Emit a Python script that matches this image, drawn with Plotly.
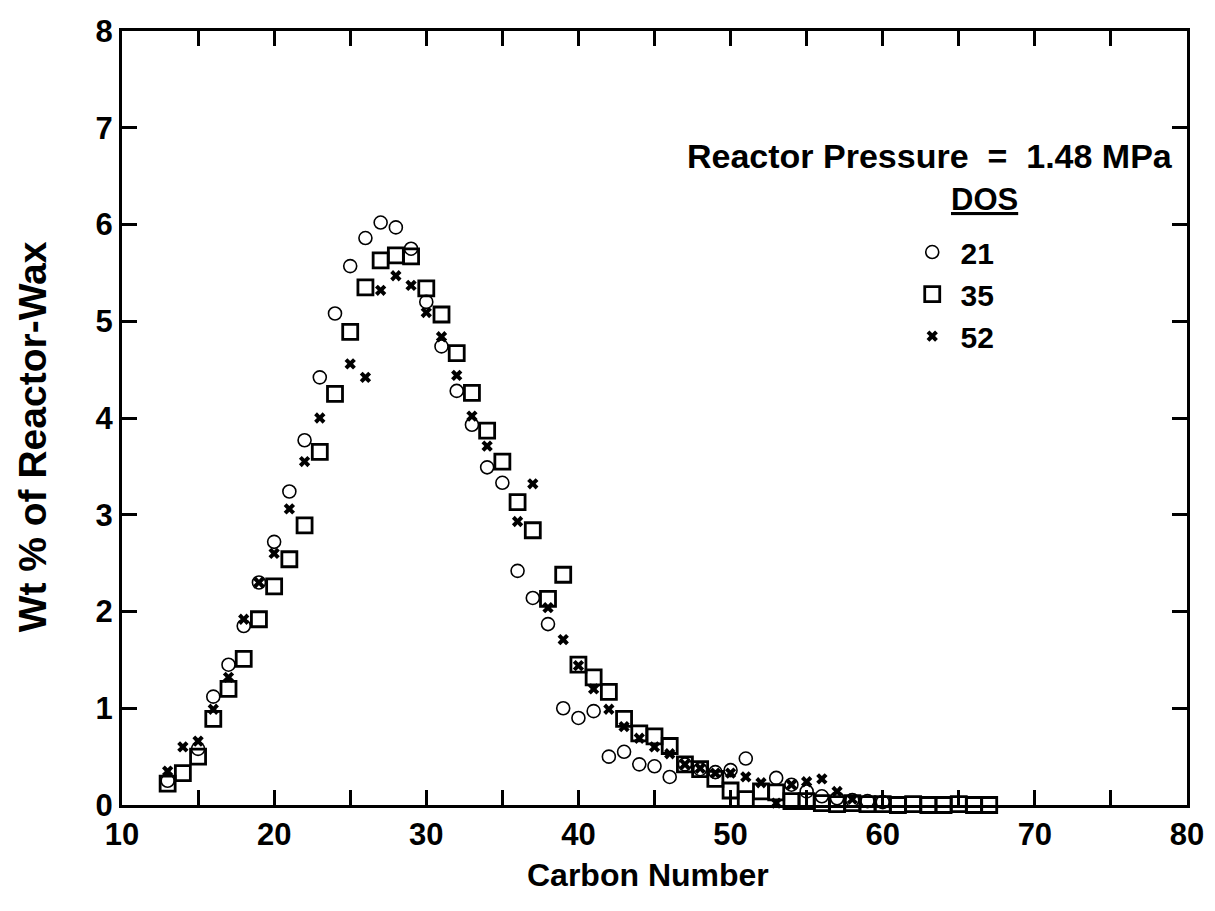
import plotly.graph_objects as go

carbon = list(range(13, 68))

dos21 = {
    13: 0.25, 15: 0.58, 16: 1.12, 17: 1.45, 18: 1.85, 19: 2.30, 20: 2.72,
    21: 3.24, 22: 3.77, 23: 4.42, 24: 5.08, 25: 5.57, 26: 5.86, 27: 6.02,
    28: 5.97, 29: 5.75, 30: 5.20, 31: 4.74, 32: 4.28, 33: 3.93, 34: 3.49,
    35: 3.33, 36: 2.42, 37: 2.14, 38: 1.87, 39: 1.00, 40: 0.90, 41: 0.97,
    42: 0.50, 43: 0.55, 44: 0.42, 45: 0.40, 46: 0.29, 47: 0.42, 48: 0.37,
    49: 0.34, 50: 0.36, 51: 0.48, 53: 0.28, 54: 0.21, 55: 0.14, 56: 0.09,
    57: 0.07, 58: 0.05, 59: 0.04, 60: 0.03,
}
dos35 = {
    13: 0.22, 14: 0.33, 15: 0.50, 16: 0.89, 17: 1.20, 18: 1.51, 19: 1.92,
    20: 2.26, 21: 2.54, 22: 2.89, 23: 3.65, 24: 4.25, 25: 4.89, 26: 5.35,
    27: 5.63, 28: 5.68, 29: 5.67, 30: 5.34, 31: 5.07, 32: 4.67, 33: 4.26,
    34: 3.87, 35: 3.55, 36: 3.13, 37: 2.84, 38: 2.13, 39: 2.38, 40: 1.45,
    41: 1.32, 42: 1.17, 43: 0.89, 44: 0.74, 45: 0.71, 46: 0.61, 47: 0.42,
    48: 0.37, 49: 0.27, 50: 0.15, 51: 0.06, 52: 0.14, 53: 0.13, 54: 0.04,
    55: 0.04, 56: 0.02, 57: 0.01, 58: 0.02, 59: 0.01, 60: 0.01, 61: 0.0,
    62: 0.01, 63: 0.0, 64: 0.0, 65: 0.01, 66: 0.0, 67: 0.0,
}
dos52 = {
    13: 0.35, 14: 0.60, 15: 0.66, 16: 0.99, 17: 1.32, 18: 1.92, 19: 2.30,
    20: 2.60, 21: 3.06, 22: 3.55, 23: 4.00, 25: 4.56, 26: 4.42, 27: 5.32,
    28: 5.47, 29: 5.37, 30: 5.09, 31: 4.84, 32: 4.44, 33: 4.02, 34: 3.71,
    36: 2.93, 37: 3.32, 38: 2.04, 39: 1.71, 40: 1.44, 41: 1.20, 42: 0.99,
    43: 0.81, 44: 0.69, 45: 0.60, 46: 0.53, 47: 0.42, 48: 0.38, 49: 0.33,
    50: 0.33, 51: 0.29, 52: 0.23, 53: 0.02, 54: 0.21, 55: 0.24, 56: 0.27,
    57: 0.14, 58: 0.06,
}

series_names = ["21", "35", "52"]
x_tick_vals = [10, 15, 20, 25, 30, 35, 40, 45, 50, 55, 60, 65, 70, 75, 80]
x_tick_text = ["10", "", "20", "", "30", "", "40", "", "50", "", "60", "", "70", "", "80"]
y_tick_vals = [0, 1, 2, 3, 4, 5, 6, 7, 8]

FONT = "Liberation Sans"

def xy(d):
    xs = [c for c in carbon if c in d]
    return xs, [d[c] for c in xs]

fig = go.Figure()
x1, y1 = xy(dos21)
fig.add_trace(go.Scatter(x=x1, y=y1, mode="markers", name="&nbsp;" + series_names[0],
                         marker=dict(symbol="circle-open", size=13, color="black",
                                     line=dict(width=1.6, color="black")),
                         cliponaxis=False))
x2, y2 = xy(dos35)
fig.add_trace(go.Scatter(x=x2, y=y2, mode="markers", name="&nbsp;" + series_names[1],
                         marker=dict(symbol="square-open", size=15, color="black",
                                     line=dict(width=2.8, color="black")),
                         cliponaxis=False))
x3, y3 = xy(dos52)
fig.add_trace(go.Scatter(x=x3, y=y3, mode="markers", name="&nbsp;" + series_names[2],
                         marker=dict(symbol="x", size=10, color="black",
                                     line=dict(width=0)),
                         cliponaxis=False))

axis_common = dict(showline=True, linewidth=3, linecolor="black", mirror="ticks",
                   ticks="inside", ticklen=15, tickwidth=2.5, tickcolor="black",
                   showgrid=False, zeroline=False, automargin=False,
                   tickfont=dict(family=FONT, size=31, color="black", weight="bold"))

fig.update_xaxes(range=[10, 80], tickvals=x_tick_vals, ticktext=x_tick_text, **axis_common)
fig.update_yaxes(range=[0, 8], tickvals=y_tick_vals, **axis_common)

fig.update_layout(
    width=1215, height=911,
    margin=dict(l=114, r=36, t=23, b=114),
    plot_bgcolor="white", paper_bgcolor="white",
    font=dict(family=FONT, size=28, color="black"),
    showlegend=True,
    legend=dict(x=0.742, y=0.748, xanchor="left", yanchor="top",
                bgcolor="rgba(0,0,0,0)",
                font=dict(family=FONT, size=30, color="black", weight="bold"),
                itemwidth=30, tracegroupgap=0),
    annotations=[
        dict(x=0.989, y=0.839, xref="paper", yref="paper", xanchor="right", yanchor="middle",
             text="Reactor Pressure  =  1.48 MPa", showarrow=False,
             font=dict(family=FONT, size=34, color="black", weight="bold")),
        dict(x=0.810, y=0.782, xref="paper", yref="paper", xanchor="center", yanchor="middle",
             text="<u>DOS</u>", showarrow=False,
             font=dict(family=FONT, size=31, color="black", weight="bold")),
        dict(x=0.494, y=-0.090, xref="paper", yref="paper", xanchor="center", yanchor="middle",
             text="Carbon Number", showarrow=False,
             font=dict(family=FONT, size=32, color="black", weight="bold")),
        dict(x=-0.0845, y=0.475, xref="paper", yref="paper", xanchor="center", yanchor="middle",
             text="Wt % of Reactor-Wax", showarrow=False, textangle=-90,
             font=dict(family=FONT, size=39, color="black", weight="bold")),
    ],
)

fig.write_html("out.html")
